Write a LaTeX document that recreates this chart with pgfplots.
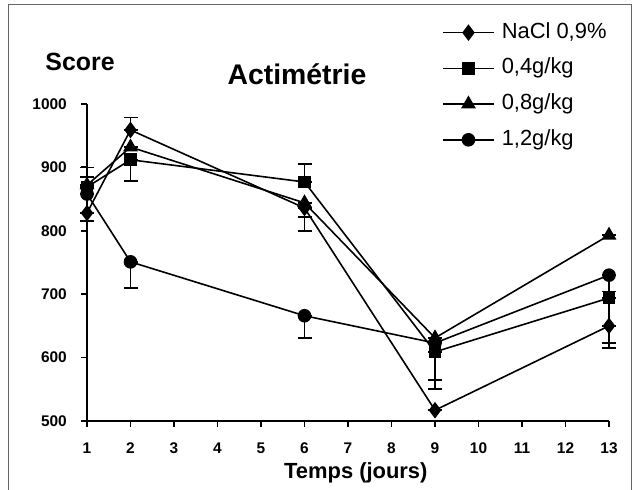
\documentclass[border=0pt]{standalone}
\usepackage{pgfplots}
\pgfplotsset{compat=1.18}
\usepackage{pgfplotstable}
\usepackage{fontspec}
\setmainfont{Liberation Sans}
\pgfplotstableread{
x y ep em
1 828 0 13
2 959 20 0
6 836 0 36
9 517 0 0
13 650 0 35
}\nacl
\pgfplotstableread{
x y ep em
1 869 16 0
2 912 0 33
6 877 28 0
9 609 0 44
13 694 10 0
}\dquatre
\pgfplotstableread{
x y ep em
1 872 28 0
2 932 0 0
6 844 0 22
9 631 0 81
13 793 0 0
}\dhuit
\pgfplotstableread{
x y ep em
1 858 0 0
2 751 0 41
6 666 0 35
9 623 0 0
13 730 0 107
}\ddouze
\begin{document}
\begin{tikzpicture}[x=1bp,y=1bp]
\path[use as bounding box] (0,0) rectangle (634,490);
\draw[black!60, line width=1bp] (8,0) -- (8,485.5) -- (631.5,485.5) -- (631.5,0);
\begin{axis}[
  at={(87bp,69bp)}, anchor=south west,
  scale only axis, width=522bp, height=317bp,
  xmin=1, xmax=13, ymin=500, ymax=1000,
  axis lines*=left,
  axis line style={line width=2bp},
  xtick={1,...,13}, ytick={500,600,...,1000},
  tick align=outside, major tick length=6bp,
  tick style={black, line width=1.8bp},
  clip=false,
  /pgf/number format/assume math mode=true,
  /pgf/number format/set thousands separator={},
  tick label style={font=\bfseries\fontsize{15.5}{15.5}\selectfont},
  yticklabel style={inner sep=0pt, anchor=east, xshift=-14bp},
  xticklabel style={inner sep=0pt, anchor=north, yshift=-16bp},
  xlabel={Temps (jours)},
  xlabel style={font=\bfseries\fontsize{22}{22}\selectfont, at={(axis description cs:0.515,-0.180)}, anchor=base, inner sep=0pt},
  error bars/y dir=both, error bars/y explicit,
  error bars/error bar style={black, line width=1.6bp},
  error bars/error mark options={black, rotate=90, mark size=7bp, line width=1.6bp},
  legend style={at={(axis description cs:0.680,1.2587)}, anchor=north west, draw=none, fill=none, inner sep=0pt,
     font=\fontsize{22}{22}\selectfont, row sep=14.7bp,
     nodes={inner sep=0pt, text height=16bp, text depth=5bp}},
  legend cell align=left,
  legend image code/.code={\draw[mark repeat=2,mark phase=2,line width=1.6bp] plot coordinates {(0bp,0bp)(25.5bp,0bp)(51bp,0bp)}; \path (58bp,0bp);},
]
\addplot[black, line width=1.6bp, mark=diamond*, mark size=7bp, mark options={fill=black, draw=black, solid}] table[x=x, y=y, y error plus=ep, y error minus=em] {\nacl};
\addlegendentry{NaCl 0,9\%}
\addplot[black, line width=1.6bp, mark=square*, mark size=5.5bp, mark options={fill=black, draw=black, solid}] table[x=x, y=y, y error plus=ep, y error minus=em] {\dquatre};
\addlegendentry{0,4g/kg}
\addplot[black, line width=1.6bp, mark=triangle*, mark size=7bp, mark options={fill=black, draw=black, solid}] table[x=x, y=y, y error plus=ep, y error minus=em] {\dhuit};
\addlegendentry{0,8g/kg}
\addplot[black, line width=1.6bp, mark=*, mark size=6bp, mark options={fill=black, draw=black, solid}] table[x=x, y=y, y error plus=ep, y error minus=em] {\ddouze};
\addlegendentry{1,2g/kg}
\end{axis}
\node[anchor=base, inner sep=0pt, font=\bfseries\fontsize{25}{25}\selectfont] at (80,419) {Score};
\node[anchor=base, inner sep=0pt, font=\bfseries\fontsize{28.5}{28.5}\selectfont] at (297,405) {Actimétrie};
\end{tikzpicture}
\end{document}
